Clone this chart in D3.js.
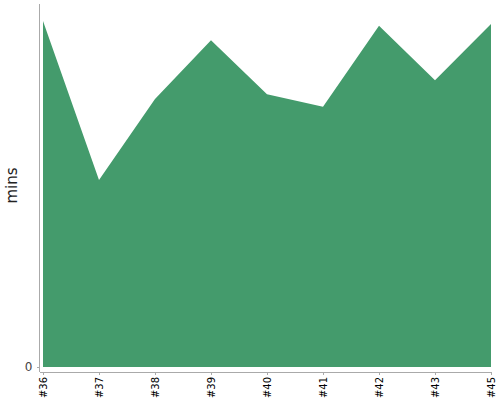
<!DOCTYPE html>
<html>
<head>
<meta charset="utf-8">
<script src="https://cdn.jsdelivr.net/npm/d3@7"></script>
<style>
  body { margin: 0; background: #fff; }
  .axis path, .axis line { stroke: #aaa; fill: none; shape-rendering: crispEdges; }
  .axis text { font-family: "DejaVu Sans", sans-serif; fill: #000; }
</style>
</head>
<body>
<script>
const builds = ["#36", "#37", "#38", "#39", "#40", "#41", "#42", "#43", "#45"];
const mins = [57.2, 30.9, 44.3, 54.0, 45.1, 43.0, 56.4, 47.4, 56.7];
const yTicks = [0];

(function() {
    const width = 500, height = 400;
    const plotLeft = 43, plotRight = 491, plotTop = 4, plotBottom = 367,
          xAxisY = 372, yAxisX = 39.5;

    const svg = d3.select("body").append("svg")
        .attr("width", width)
        .attr("height", height);

    const x = d3.scalePoint().domain(builds).range([plotLeft, plotRight]);
    const y = d3.scaleLinear().domain([0, 60]).range([plotBottom, plotTop]);

    const area = d3.area()
        .x((d, i) => x(builds[i]))
        .y0(y(0))
        .y1(d => y(d));

    svg.append("path")
        .datum(mins)
        .attr("d", area)
        .attr("fill", "#449b6c");

    // y axis
    const yAxis = svg.append("g")
        .attr("class", "axis")
        .attr("transform", `translate(${yAxisX},0)`)
        .call(d3.axisLeft(y).tickValues(yTicks).tickSize(3).tickSizeOuter(0).tickPadding(4));
    yAxis.select(".domain").attr("d", `M0,${plotTop}V${xAxisY}`);
    yAxis.selectAll("text").style("font-size", "12px").style("fill", "#444");

    // x axis
    const xAxis = svg.append("g")
        .attr("class", "axis")
        .attr("transform", `translate(0,${xAxisY})`)
        .call(d3.axisBottom(x).tickSize(3).tickSizeOuter(0));
    xAxis.select(".domain").attr("d", `M${yAxisX},0H${plotRight}`);
    xAxis.selectAll("text")
        .style("font-size", "10px")
        .style("text-anchor", "end")
        .attr("transform", "rotate(-90)")
        .attr("x", -5)
        .attr("y", 0)
        .attr("dy", "0.35em");

    svg.append("text")
        .attr("transform", `translate(17,${(plotTop + plotBottom) / 2}) rotate(-90)`)
        .attr("text-anchor", "middle")
        .style("font-family", "\"DejaVu Sans\", sans-serif")
        .style("font-size", "15px")
        .style("fill", "#222")
        .text("mins");
})();
</script>
</body>
</html>
